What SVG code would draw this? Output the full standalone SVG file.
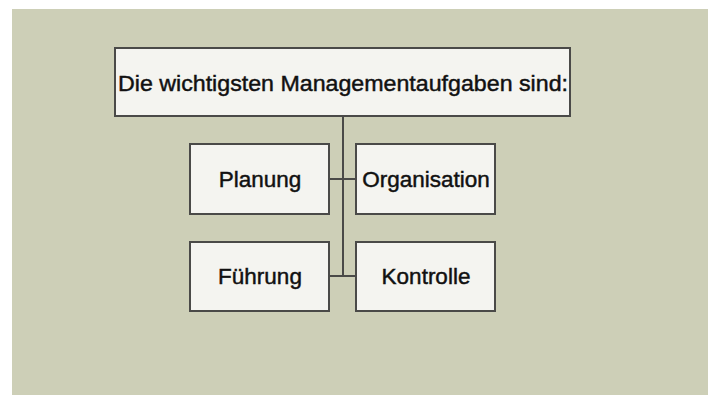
<svg xmlns="http://www.w3.org/2000/svg" width="720" height="405" viewBox="0 0 720 405">
<style>
.box{fill:#F4F4F0;stroke:#4A4A48;stroke-width:2}
.lbl{font-family:"Liberation Sans",Arial,sans-serif;font-size:22.5px;fill:#111;stroke:#111;stroke-width:0.45;text-anchor:middle}
.conn{stroke:#4A4A48;stroke-width:2;fill:none}
</style>
<rect x="0" y="0" width="720" height="405" fill="#FFFFFF"/>
<rect x="12" y="9" width="696" height="386" fill="#CDCFB7"/>
<g id="connectors">
<line class="conn" x1="343" y1="116" x2="343" y2="276"/>
<line class="conn" x1="329" y1="179" x2="356" y2="179"/>
<line class="conn" x1="329" y1="276" x2="356" y2="276"/>
</g>
<g id="top">
<rect class="box" x="115" y="48" width="455" height="68"/>
<text class="lbl" x="343" y="91" textLength="450" lengthAdjust="spacingAndGlyphs">Die wichtigsten Managementaufgaben sind:</text>
</g>
<g id="planung">
<rect class="box" x="190" y="144" width="139" height="70"/>
<text class="lbl" x="260" y="187">Planung</text>
</g>
<g id="organisation">
<rect class="box" x="356" y="144" width="139" height="70"/>
<text class="lbl" x="426" y="187">Organisation</text>
</g>
<g id="fuehrung">
<rect class="box" x="190" y="242" width="139" height="69"/>
<text class="lbl" x="260" y="284">Führung</text>
</g>
<g id="kontrolle">
<rect class="box" x="356" y="242" width="139" height="69"/>
<text class="lbl" x="426" y="284">Kontrolle</text>
</g>
</svg>
